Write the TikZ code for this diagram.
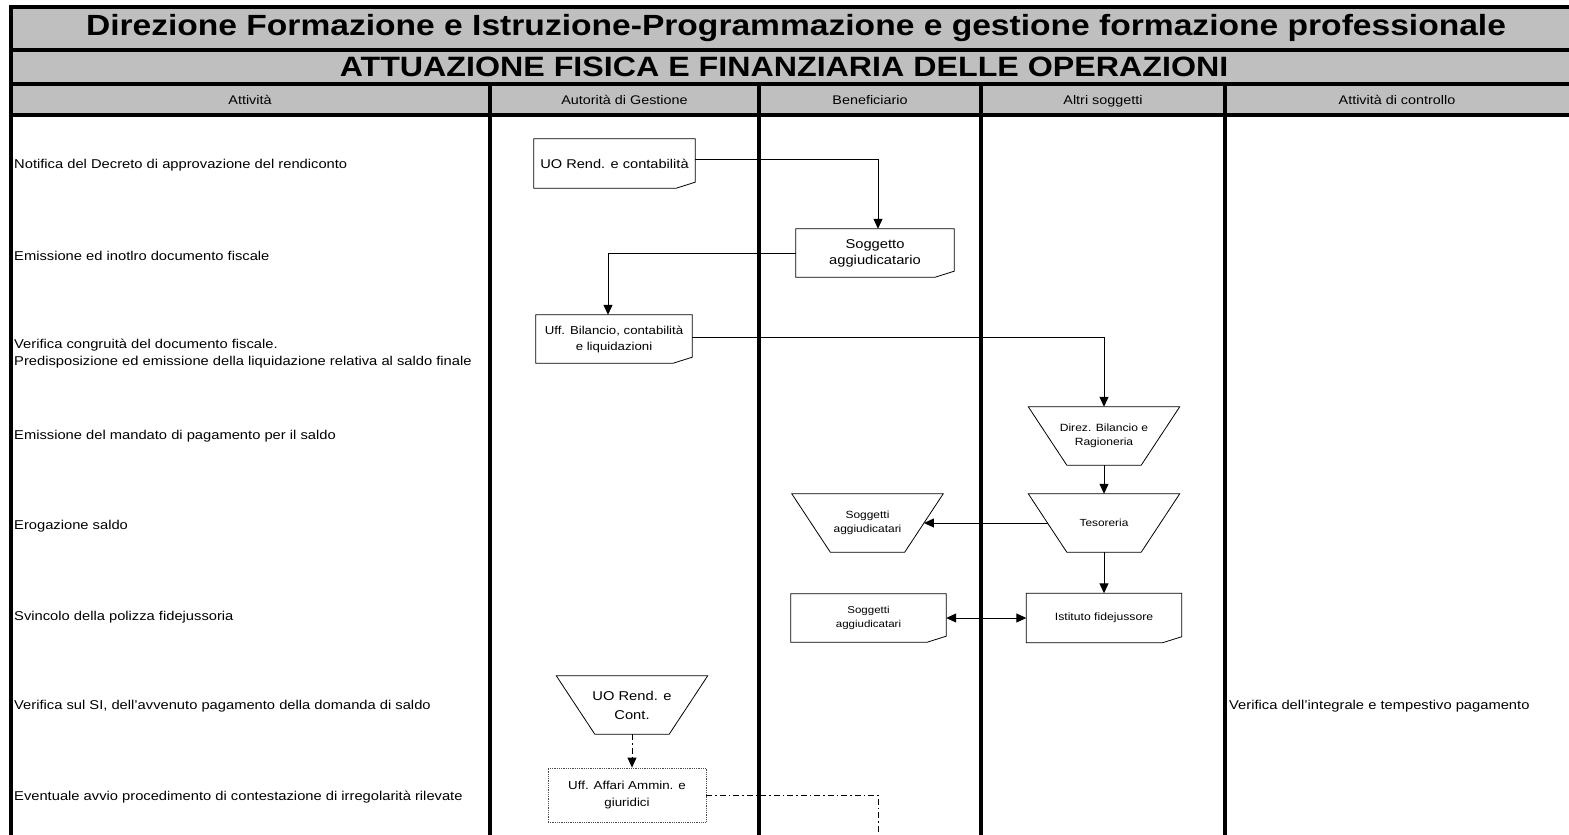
\documentclass[tikz,border=0pt]{standalone}
\usepackage{fontspec}
\setmainfont[FakeStretch=1.15]{Liberation Sans}
\usetikzlibrary{arrows.meta, positioning}

% outline of a document box (bottom right corner cut)
\newcommand{\docframe}[1]{\draw[line width=0.8pt] (#1.north west) -- (#1.north east) -- ([yshift=6pt]#1.south east) -- ([xshift=-19pt]#1.south east) -- (#1.south west) -- cycle;}
% outline of a manual operation (wide top, narrow bottom)
\newcommand{\trapframe}[1]{\draw[line width=0.8pt] (#1.north west) -- (#1.north east) -- ([xshift=-38.5pt]#1.south east) -- ([xshift=38.5pt]#1.south west) -- cycle;}

\begin{document}
\begin{tikzpicture}[
    x=1pt, y=-1pt,
    lane/.style={line width=4pt},
    act/.style={anchor=west, inner sep=0pt, align=left, font=\fontsize{12.8}{17}\selectfont},
    head/.style={anchor=base, font=\fontsize{12.5}{15}\selectfont},
    docbox/.style={align=center, inner sep=0pt, minimum height=48},
    trap/.style={align=center, inner sep=0pt, minimum width=151, minimum height=58},
    flow/.style={line width=1pt, -{Triangle[length=10pt, width=9pt]}},
    ctrl/.style={line width=0.8pt, dash pattern=on 6pt off 3pt on 1.5pt off 3pt}
]
    \useasboundingbox (0,0) rectangle (1569,835);

    % Header band
    \fill[gray!50] (11,7) rectangle (1569,115);
    \foreach \y in {7, 50, 84, 115}
        \draw[lane] (9,\y) -- (1569,\y);
    \draw[lane] (11,5) -- (11,835);
    \foreach \x in {490, 759, 981, 1225}
        \draw[lane] (\x,84) -- (\x,835);

    \node[font=\bfseries\fontsize{29.2}{32}\selectfont] (t1) at (796,28.5)
        {Direzione Formazione e Istruzione-Programmazione e gestione formazione professionale};
    \node[font=\bfseries\fontsize{28}{32}\selectfont] (t2) at (784,67)
        {ATTUAZIONE FISICA E FINANZIARIA DELLE OPERAZIONI};

    \node[head] (h1) at (250,104) {Attività};
    \node[head] (h2) at (624.5,104) {Autorità di Gestione};
    \node[head] (h3) at (870,104) {Beneficiario};
    \node[head] (h4) at (1103,104) {Altri soggetti};
    \node[head] (h5) at (1397,104) {Attività di controllo};

    % Activities
    \node[act] (a1) at (14,165) {Notifica del Decreto di approvazione del rendiconto};
    \node[act] (a2) at (14,256) {Emissione ed inotlro documento fiscale};
    \node[act] (a3) at (14,353.5) {Verifica congruità del documento fiscale.\\Predisposizione ed emissione della liquidazione relativa al saldo finale};
    \node[act] (a4) at (14,436) {Emissione del mandato di pagamento per il saldo};
    \node[act] (a5) at (14,526) {Erogazione saldo};
    \node[act] (a6) at (14,617) {Svincolo della polizza fidejussoria};
    \node[act] (a7) at (14,706) {Verifica sul SI, dell'avvenuto pagamento della domanda di saldo};
    \node[act] (a8) at (14,797) {Eventuale avvio procedimento di contestazione di irregolarità rilevate};
    \node[act] (c7) at (1229,706) {Verifica dell'integrale e tempestivo pagamento};

    % Flow nodes
    \node[docbox, minimum width=161, minimum height=49, font=\fontsize{12.7}{16}\selectfont]
        (uorend) at (614.5,163.5) {UO Rend. e contabilità};
    \node[docbox, minimum width=158, font=\fontsize{12.8}{16}\selectfont]
        (sogg) at (875,253) {Soggetto\\aggiudicatario};
    \node[docbox, minimum width=156, font=\fontsize{11.5}{16}\selectfont]
        (ubil) at (614,339) {Uff. Bilancio, contabilità\\e liquidazioni};
    \node[trap, font=\fontsize{10.5}{14}\selectfont]
        (direz) at (1104,436) {Direz. Bilancio e\\Ragioneria};
    \node[trap, font=\fontsize{10.3}{14}\selectfont]
        (tes) at (1104,523) {Tesoreria};
    \node[trap, font=\fontsize{10.4}{14}\selectfont]
        (sogtrap) at (867.5,523) {Soggetti\\aggiudicatari};
    \node[docbox, minimum width=155, font=\fontsize{10}{14}\selectfont]
        (sogdoc) at (868.5,618) {Soggetti\\aggiudicatari};
    \node[docbox, minimum width=155, minimum height=49, font=\fontsize{10.6}{14}\selectfont]
        (istfid) at (1104,618) {Istituto fidejussore};
    \node[trap, font=\fontsize{12.8}{19}\selectfont]
        (uocont) at (632,705) {UO Rend. e\\Cont.};
    \node[draw=black!70, densely dotted, line width=0.8pt, align=center, inner sep=0pt,
        minimum width=158, minimum height=54, font=\fontsize{11.6}{17.5}\selectfont]
        (uaff) at (627,795) {Uff. Affari Ammin. e\\giuridici};

    \docframe{uorend}
    \docframe{sogg}
    \docframe{ubil}
    \docframe{sogdoc}
    \docframe{istfid}
    \trapframe{direz}
    \trapframe{tes}
    \trapframe{sogtrap}
    \trapframe{uocont}

    % Connectors
    \draw[flow] ([yshift=4.5pt]uorend.east) -| ([xshift=3pt]sogg.north);
    \draw[flow] (sogg.west) -| ([xshift=-6pt]ubil.north);
    \draw[flow] ([yshift=2pt]ubil.east) -| (direz.north);
    \draw[flow] (direz.south) -- (tes.north);
    \draw[flow] ([xshift=19.25pt]tes.west) -- ([xshift=-19.25pt]sogtrap.east);
    \draw[flow] (tes.south) -- (istfid.north);
    \draw[line width=1pt, {Triangle[length=10pt, width=9pt]}-{Triangle[length=10pt, width=9pt]}]
        (sogdoc.east) -- (istfid.west);
    \draw[ctrl, -{Triangle[length=10pt, width=9pt]}] (uocont.south) -- (uocont.south |- uaff.north);
    \coordinate (cut) at (878,835);
    \draw[ctrl] (uaff.east) -| (cut);

\end{tikzpicture}
\end{document}
